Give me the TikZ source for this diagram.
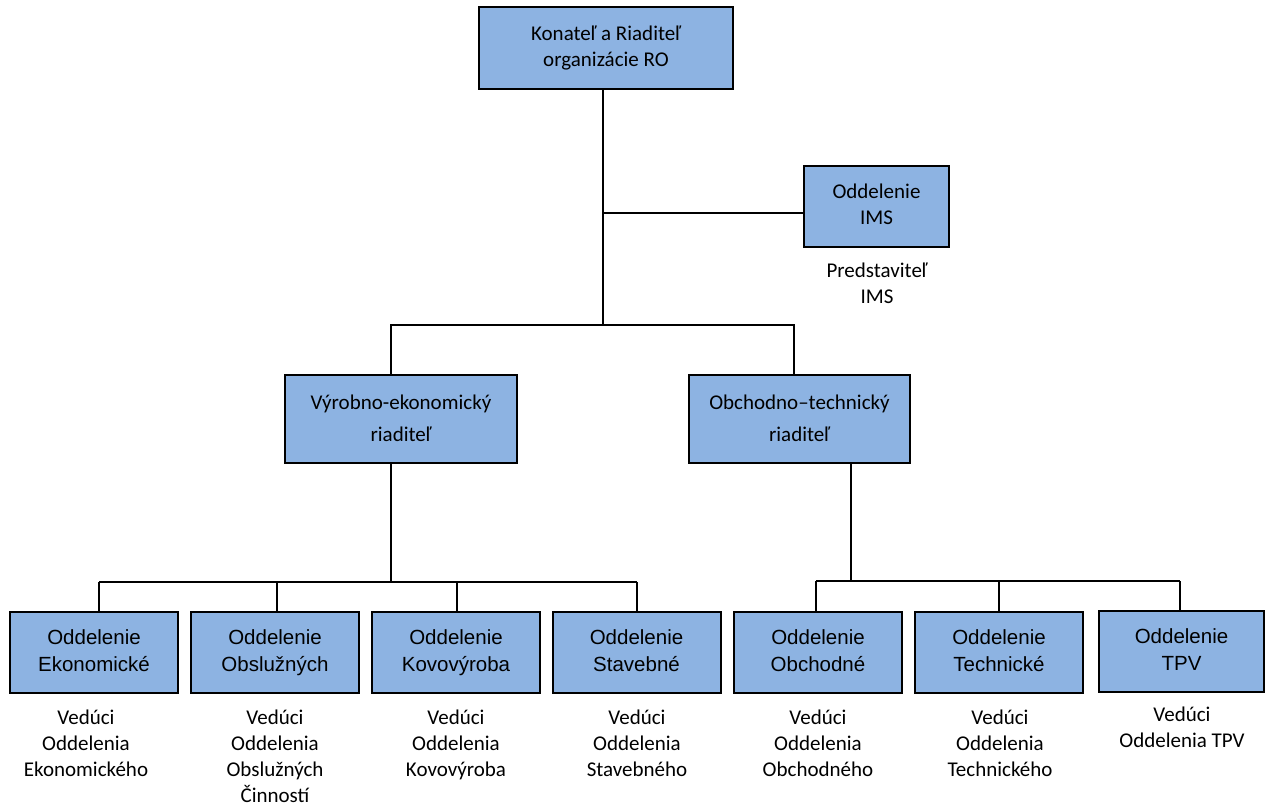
\documentclass[tikz,border=0pt]{standalone}
\usepackage{fontspec}
\setmainfont{Carlito}
\newfontfamily\arialf{Liberation Sans}
\definecolor{boxblue}{HTML}{8DB3E2}
\begin{document}
\begin{tikzpicture}[x=1pt,y=-1pt,
  box/.style={draw=black, line width=2pt, fill=boxblue, inner sep=0pt, align=center},
  topbox/.style={box, font=\fontsize{21}{26}\selectfont},
  midbox/.style={box, font=\fontsize{21}{32}\selectfont},
  botbox/.style={box, font=\arialf\fontsize{20.5}{27}\selectfont, minimum width=168pt, minimum height=81pt},
  captext/.style={align=center, inner sep=0pt, font=\fontsize{21}{26}\selectfont},
  conn/.style={line width=1.3pt}]
\useasboundingbox (0,0) rectangle (1266,805);

% nodes
\node[topbox, minimum width=254pt, minimum height=82pt] (top) at (606,48) {\strut Konateľ a Riaditeľ\\organizácie RO\strut};
\node[topbox, minimum width=145pt, minimum height=81pt] (ims) at (876.5,206.5) {\strut Oddelenie\\IMS\strut};
\node[captext] (imscap) at (877,285) {\strut Predstaviteľ\\IMS\strut};
\node[midbox, minimum width=232pt, minimum height=88pt] (vyr) at (401,419) {\strut Výrobno-ekonomický\\riaditeľ\strut};
\node[midbox, minimum width=221pt, minimum height=88pt] (obr) at (799.5,419) {\strut Obchodno–technický\\riaditeľ\strut};

\node[botbox] (ekon) at (94,652.5) {\strut Oddelenie\\Ekonomické\strut};
\node[botbox] (obsl) at (275,652.5) {\strut Oddelenie\\Obslužných\strut};
\node[botbox] (kovo) at (456,652.5) {\strut Oddelenie\\Kovovýroba\strut};
\node[botbox] (stav) at (636.5,652.5) {\strut Oddelenie\\Stavebné\strut};
\node[botbox] (obch) at (818,652.5) {\strut Oddelenie\\Obchodné\strut};
\node[botbox] (tech) at (999,652.5) {\strut Oddelenie\\Technické\strut};
\node[botbox, minimum width=165pt] (tpv) at (1181.5,651.5) {\strut Oddelenie\\TPV\strut};

\node[captext] (c1) at (86,745) {\strut Vedúci\\Oddelenia\\Ekonomického\strut};
\node[captext] (c2) at (275,758) {\strut Vedúci\\Oddelenia\\Obslužných\\Činností\strut};
\node[captext] (c3) at (456,745) {\strut Vedúci\\Oddelenia\\Kovovýroba\strut};
\node[captext] (c4) at (637,745) {\strut Vedúci\\Oddelenia\\Stavebného\strut};
\node[captext] (c5) at (818,745) {\strut Vedúci\\Oddelenia\\Obchodného\strut};
\node[captext] (c6) at (1000,745) {\strut Vedúci\\Oddelenia\\Technického\strut};
\node[captext] (c7) at (1182,729) {\strut Vedúci\\Oddelenia TPV\strut};

% connectors
\coordinate (trunk) at (603,325);
\coordinate (imsj) at (603,213);
\draw[conn] (top.south -| trunk) -- (trunk);
\draw[conn] (imsj) -- (imsj -| ims.west);
\coordinate (dv) at (391,325);
\coordinate (do) at (794,325);
\draw[conn] (vyr.north -| dv) -- (dv) -- (do) -- (obr.north -| do);

\coordinate (bl) at (391,582);
\draw[conn] (vyr.south -| bl) -- (bl);
\coordinate (e1) at (99,582);
\coordinate (e2) at (277,582);
\coordinate (e3) at (457,582);
\coordinate (e4) at (637,582);
\draw[conn] (e1) -- (e4);
\draw[conn] (e1) -- (e1 |- ekon.north);
\draw[conn] (e2) -- (e2 |- obsl.north);
\draw[conn] (e3) -- (e3 |- kovo.north);
\draw[conn] (e4) -- (e4 |- stav.north);

\coordinate (br) at (851,581);
\draw[conn] (obr.south -| br) -- (br);
\coordinate (r1) at (816,581);
\coordinate (r2) at (999,581);
\coordinate (r3) at (1180,581);
\draw[conn] (r1) -- (r3);
\draw[conn] (r1) -- (r1 |- obch.north);
\draw[conn] (r2) -- (r2 |- tech.north);
\draw[conn] (r3) -- (r3 |- tpv.north);
\end{tikzpicture}
\end{document}
